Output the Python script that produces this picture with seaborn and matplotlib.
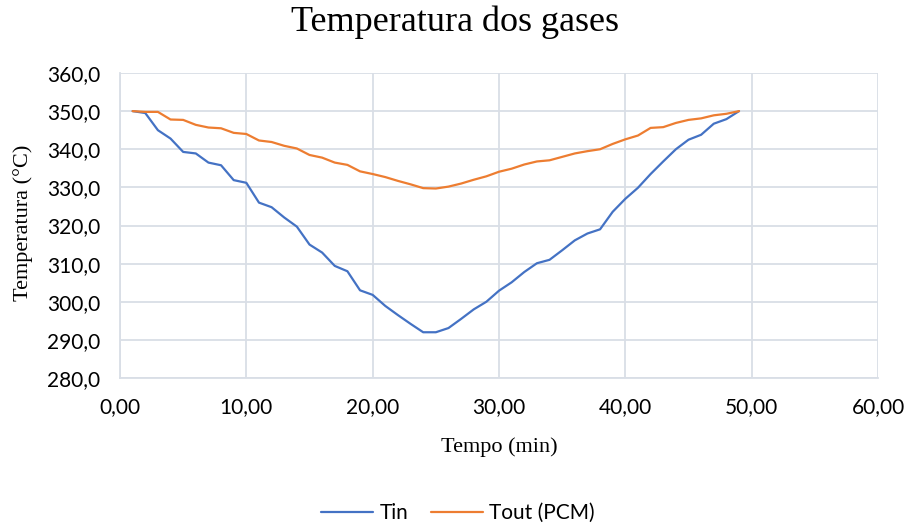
import matplotlib
matplotlib.use("Agg")
import matplotlib.pyplot as plt
import seaborn as sns
import pandas as pd
from matplotlib.lines import Line2D

tempo = list(range(1, 50))
tin = [350.0, 349.5, 345.0, 342.8, 339.3, 338.9, 336.5, 335.8, 331.9, 331.2,
       326.0, 324.8, 322.1, 319.7, 315.0, 312.9, 309.4, 308.0, 303.0, 301.8,
       298.9, 296.5, 294.2, 292.0, 292.0, 293.1, 295.5, 298.0, 300.0, 302.9,
       305.1, 307.8, 310.1, 311.0, 313.5, 316.1, 317.9, 319.0, 323.6, 327.0,
       329.9, 333.5, 336.8, 340.0, 342.5, 343.8, 346.7, 347.9, 350.0]
tout = [350.0, 349.8, 349.8, 347.8, 347.7, 346.4, 345.7, 345.5, 344.3, 344.0,
        342.3, 341.9, 340.9, 340.2, 338.5, 337.8, 336.5, 335.9, 334.2, 333.5,
        332.7, 331.7, 330.8, 329.8, 329.7, 330.2, 331.0, 332.0, 332.9, 334.1,
        334.9, 336.0, 336.8, 337.1, 338.0, 338.9, 339.5, 340.0, 341.4, 342.6,
        343.6, 345.6, 345.8, 346.9, 347.7, 348.1, 348.9, 349.3, 350.0]
series_names = ["Tin", "Tout (PCM)"]
x_ticks = [0, 10, 20, 30, 40, 50, 60]
x_tick_labels = ["0,00", "10,00", "20,00", "30,00", "40,00", "50,00", "60,00"]
y_ticks = [280, 290, 300, 310, 320, 330, 340, 350, 360]
y_tick_labels = ["280,0", "290,0", "300,0", "310,0", "320,0", "330,0", "340,0", "350,0", "360,0"]

df = pd.DataFrame({
    "Tempo": tempo * 2,
    "Temp": tin + tout,
    "Serie": [series_names[0]] * len(tempo) + [series_names[1]] * len(tempo),
})

sns.set_theme(style="white")
plt.rcParams["font.family"] = ["Liberation Serif", "DejaVu Serif"]
plt.rcParams["text.color"] = "black"

W, H = 909, 526
fig = plt.figure(figsize=(W / 100, H / 100), dpi=100)
ax = fig.add_axes([120 / W, 1 - 378 / H, 758 / W, 305 / H])

colors = ["#4472C4", "#ED7D31"]
sns.lineplot(data=df, x="Tempo", y="Temp", hue="Serie",
             palette=colors, linewidth=1.6, ax=ax, legend=False)

tick_font = {"family": "Lato", "size": 15}
ax.set_xlim(0, 60)
ax.set_ylim(280, 360)
ax.set_xticks(x_ticks)
ax.set_xticklabels(x_tick_labels, fontdict=tick_font, color="#000000")
ax.set_yticks(y_ticks)
ax.set_yticklabels(y_tick_labels, fontdict=tick_font, color="#000000")
ax.grid(True, color="#D9DEE6", linewidth=1.3)
ax.set_axisbelow(True)
for s in ["top", "right"]:
    ax.spines[s].set_visible(False)
for s in ["left", "bottom"]:
    ax.spines[s].set_color("#D9DEE6")
    ax.spines[s].set_linewidth(1.3)
ax.tick_params(axis="x", length=0, pad=14)
ax.tick_params(axis="y", length=0, pad=14)

ax.set_xlabel("")
ax.set_ylabel("")
fig.text(499 / W, 1 - 447 / H, "Tempo (min)", ha="center", va="center", fontsize=16, color="black")
fig.text(23 / W, 1 - 223 / H, "Temperatura (°C)", ha="center", va="center", fontsize=16,
         rotation=90, color="black")
fig.text(455 / W, 1 - 22 / H, "Temperatura dos gases", ha="center", va="center",
         fontsize=26, color="black")

handles = [Line2D([0], [0], color=c, lw=1.6) for c in colors]
fig.legend(handles, series_names, loc="center", bbox_to_anchor=(458 / W, 1 - 513 / H), ncol=2,
           frameon=False, prop={"family": "Lato", "size": 15}, handlelength=2.5,
           columnspacing=1.1, handletextpad=0.3, labelcolor="black")

fig.savefig("out.png", dpi=100)
